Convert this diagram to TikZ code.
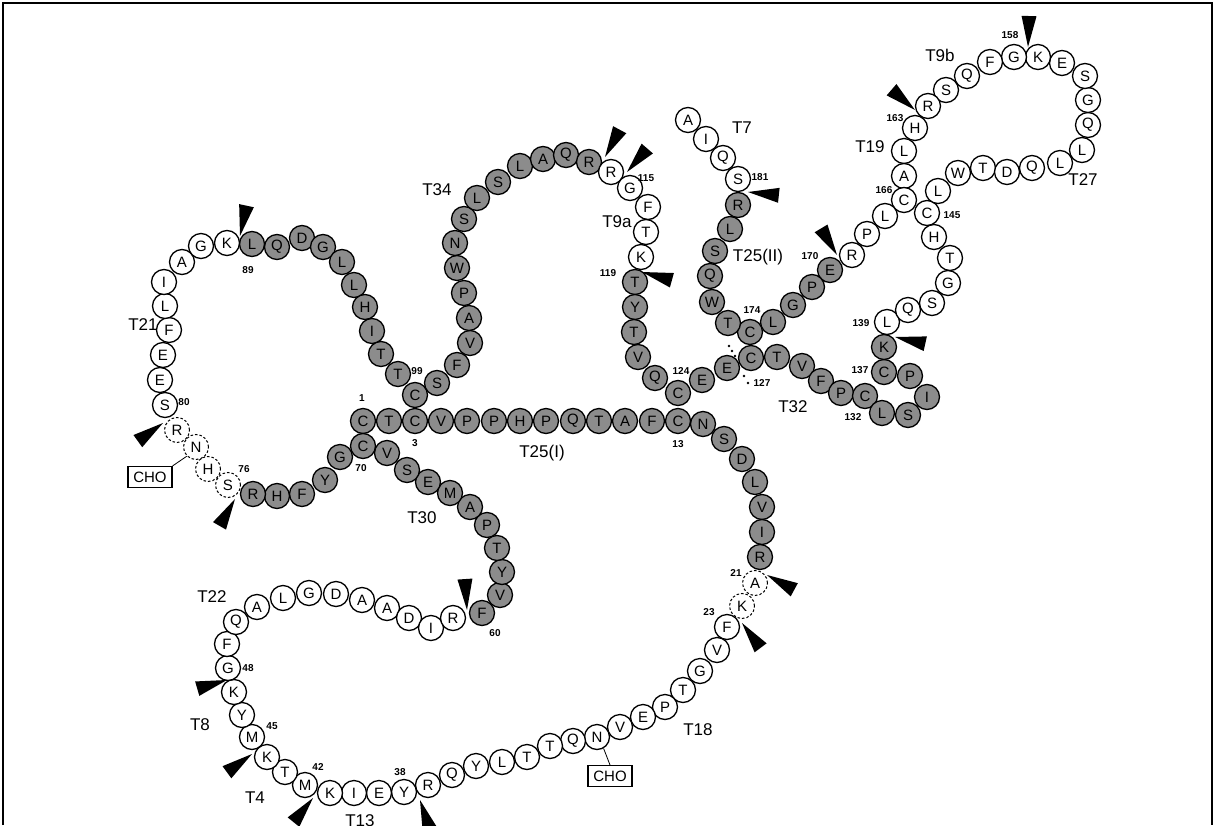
\documentclass[tikz,border=0pt]{standalone}
\usepackage{fontspec}
\setmainfont{Liberation Sans}
\usetikzlibrary{calc}
\newcommand\cleave[2]{%
  \coordinate (cmB) at ($(#1)!31pt!(#2)$);
  \fill (#1) -- ($(cmB)!7.5pt!90:(#1)$) -- ($(cmB)!7.5pt!-90:(#1)$) -- cycle;}
\begin{document}
\begin{tikzpicture}[x=1pt,y=-1pt,
  res/.style={circle,draw,line width=1.3pt,minimum size=25pt,inner sep=0pt,font=\fontsize{15}{15}\selectfont},
  sh/.style={res,fill=black!45},
  wh/.style={res,fill=white},
  dsh/.style={res,fill=white,line width=1pt,dash pattern=on 2.5pt off 2pt},
  lab/.style={font=\fontsize{17}{17}\selectfont,inner sep=0pt},
  num/.style={font=\bfseries\fontsize{10}{10}\selectfont,inner sep=0pt},
  cho/.style={draw,line width=1.1pt,font=\fontsize{15}{15}\selectfont,minimum width=44pt,minimum height=21pt,inner sep=1pt}]
\useasboundingbox (0,0) rectangle (1216,825);
\draw[line width=1.5pt] (3,825) -- (3,3) -- (1212,3) -- (1212,825);

% shaded residues
\foreach \n/\x/\y/\t in {1/363/421/C,2/389/421/T,3/415/421/C,4/441/421/V,5/467/421/P,6/494/421/P,7/520/421/H,8/546/421/P,9/573/421/Q,10/599/421/T,11/625/421/A,12/652/421/F,13/678/421/C,14/703/424/N,15/724/439/S,16/742/459/D,17/755/482/L,18/762/507/V,19/762/532/I,20/760/557/R,
60/482/613/F,61/500/595/V,62/502/572/Y,63/497/548/T,64/487/525/P,65/470/507/A,66/450/493/M,67/428/482/E,68/407/470/S,69/387/453/V,70/363/446/C,71/340/457/G,72/325/480/Y,73/302/494/F,74/277/496/H,75/253/494/R,
89/252/244/L,90/277/247/Q,91/302/238/D,92/323/247/G,93/342/262/L,94/354/285/L,95/365/307/H,96/372/331/I,97/381/354/T,98/398/374/T,99/415/395/C,100/437/383/S,101/457/365/F,102/470/343/V,103/469/318/A,104/464/293/P,105/457/268/W,106/455/243/N,107/464/219/S,108/477/198/L,109/498/182/S,110/520/166/L,111/543/159/A,112/566/155/Q,113/589/162/R,
119/635/282/T,120/635/307/Y,121/634/332/T,122/638/357/V,123/655/378/Q,124/678/393/C,125/702/380/E,126/727/368/E,127/751/358/C,128/777/357/T,129/802/366/V,130/821/381/F,131/841/393/P,132/865/396/C,133/882/413/L,134/908/415/S,135/927/397/I,136/910/376/P,137/884/372/C,138/884/347/K,
170/830/270/E,171/812/287/P,172/793/305/G,173/773/322/L,174/750/332/C,175/728/323/T,176/712/302/W,177/710/276/Q,178/715/251/S,179/730/229/L,180/738/205/R}
  {\node[sh] (r\n) at (\x,\y) {\t};}

% white residues
\foreach \n/\x/\y/\t in {23/727/627/F,24/717/650/V,25/700/671/G,26/683/690/T,27/665/707/P,28/643/717/E,29/620/727/V,30/597/737/N,31/573/741/Q,32/550/746/T,33/527/757/T,34/502/762/L,35/476/766/Y,36/452/775/Q,37/428/785/R,38/404/792/Y,39/379/793/E,40/354/793/I,41/330/793/K,42/305/785/M,43/285/772/T,44/267/757/K,45/252/737/M,46/242/715/Y,47/234/692/K,48/228/668/G,49/227/644/F,50/236/622/Q,51/257/607/A,52/283/598/L,53/309/593/G,54/336/594/D,55/362/600/A,56/387/608/A,57/409/618/D,58/431/628/I,59/453/618/R,
80/165/405/S,81/160/380/E,82/163/355/E,83/169/330/F,84/165/306/L,85/164/282/I,86/182/262/A,87/201/246/G,88/227/243/K,
114/611/172/R,115/630/188/G,116/648/207/F,117/646/232/T,118/641/257/K,
139/887/322/L,140/908/310/Q,141/932/303/S,142/948/283/G,143/950/258/T,144/934/237/H,145/927/213/C,146/938/191/L,147/958/173/W,148/983/168/T,149/1007/172/D,150/1032/168/Q,151/1060/163/L,152/1082/150/L,153/1088/125/Q,154/1088/100/G,155/1085/76/S,156/1062/63/E,157/1038/57/K,158/1014/57/G,159/990/62/F,160/967/76/Q,161/946/90/S,162/928/106/R,163/915/128/H,164/904/151/L,165/904/176/A,166/904/200/C,167/885/216/L,168/867/234/P,169/852/255/R,
181/738/179/S,182/723/158/Q,183/706/139/I,184/688/120/A}
  {\node[wh] (r\n) at (\x,\y) {\t};}

% dashed residues
\foreach \n/\x/\y/\t in {21/755/583/A,22/742/606/K,76/228/485/S,77/208/469/H,78/196/447/N,79/177/430/R}
  {\node[dsh] (r\n) at (\x,\y) {\t};}

% glycosylation
\node[cho] (cho1) at (150,477) {CHO};
\node[cho] (cho2) at (610,776) {CHO};
\draw[line width=0.8pt] (cho1.north east) -- (r78.south west);
\draw[line width=0.8pt] (r30.-60) -- (cho2.north);

% cleavage sites
\cleave{240,236}{246,208}
\cleave{163,423}{138,441}
\cleave{235,499}{220,525}
\cleave{605,157}{619,131}
\cleave{627,172}{646,150}
\cleave{642,272}{671,280}
\cleave{748,192}{776,195}
\cleave{837,255}{822,230}
\cleave{915,110}{893,91}
\cleave{1028,47}{1029,17}
\cleave{895,337}{922,343}
\cleave{767,575}{791,588}
\cleave{742,623}{757,643}
\cleave{467,610}{465,580}
\cleave{227,680}{196,689}
\cleave{252,754}{230,770}
\cleave{313,798}{296,819}
\cleave{420,800}{427,821}

% dots near C127
\foreach \p in {(729,346),(732,351),(735,356),(744,376),(748,383)} \fill \p circle (1.3);

% peptide labels
\node[lab] (tT21) at (143,325) {T21};
\node[lab] (tT34) at (437,190) {T34};
\node[lab] (tT9a) at (617,222) {T9a};
\node[lab] (tT7) at (742,128) {T7};
\node[lab] (tT9b) at (940,55) {T9b};
\node[lab] (tT19) at (870,147) {T19};
\node[lab] (tT27) at (1083,180) {T27};
\node[lab] (tT25b) at (758,257) {T25(II)};
\node[lab] (tT32) at (793,407) {T32};
\node[lab] (tT25a) at (542,453) {T25(I)};
\node[lab] (tT30) at (422,518) {T30};
\node[lab] (tT22) at (212,597) {T22};
\node[lab] (tT8) at (200,725) {T8};
\node[lab] (tT4) at (255,798) {T4};
\node[lab] (tT13) at (360,821) {T13};
\node[lab] (tT18) at (698,730) {T18};

% residue numbers
\foreach \t/\x/\y in {89/248/270,99/417/371,1/362/398,3/415/443,70/361/468,80/184/402,76/244/469,60/495/633,48/248/668,45/272/726,42/318/767,38/400/772,13/678/444,124/681/371,115/646/178,119/608/273,181/760/177,174/752/310,170/810/256,127/762/383,132/853/417,137/860/370,139/861/323,145/952/215,166/884/190,163/895/118,158/1010/35,21/736/573,23/709/612}
  {\node[num] (n\t) at (\x,\y) {\t};}
\end{tikzpicture}
\end{document}
